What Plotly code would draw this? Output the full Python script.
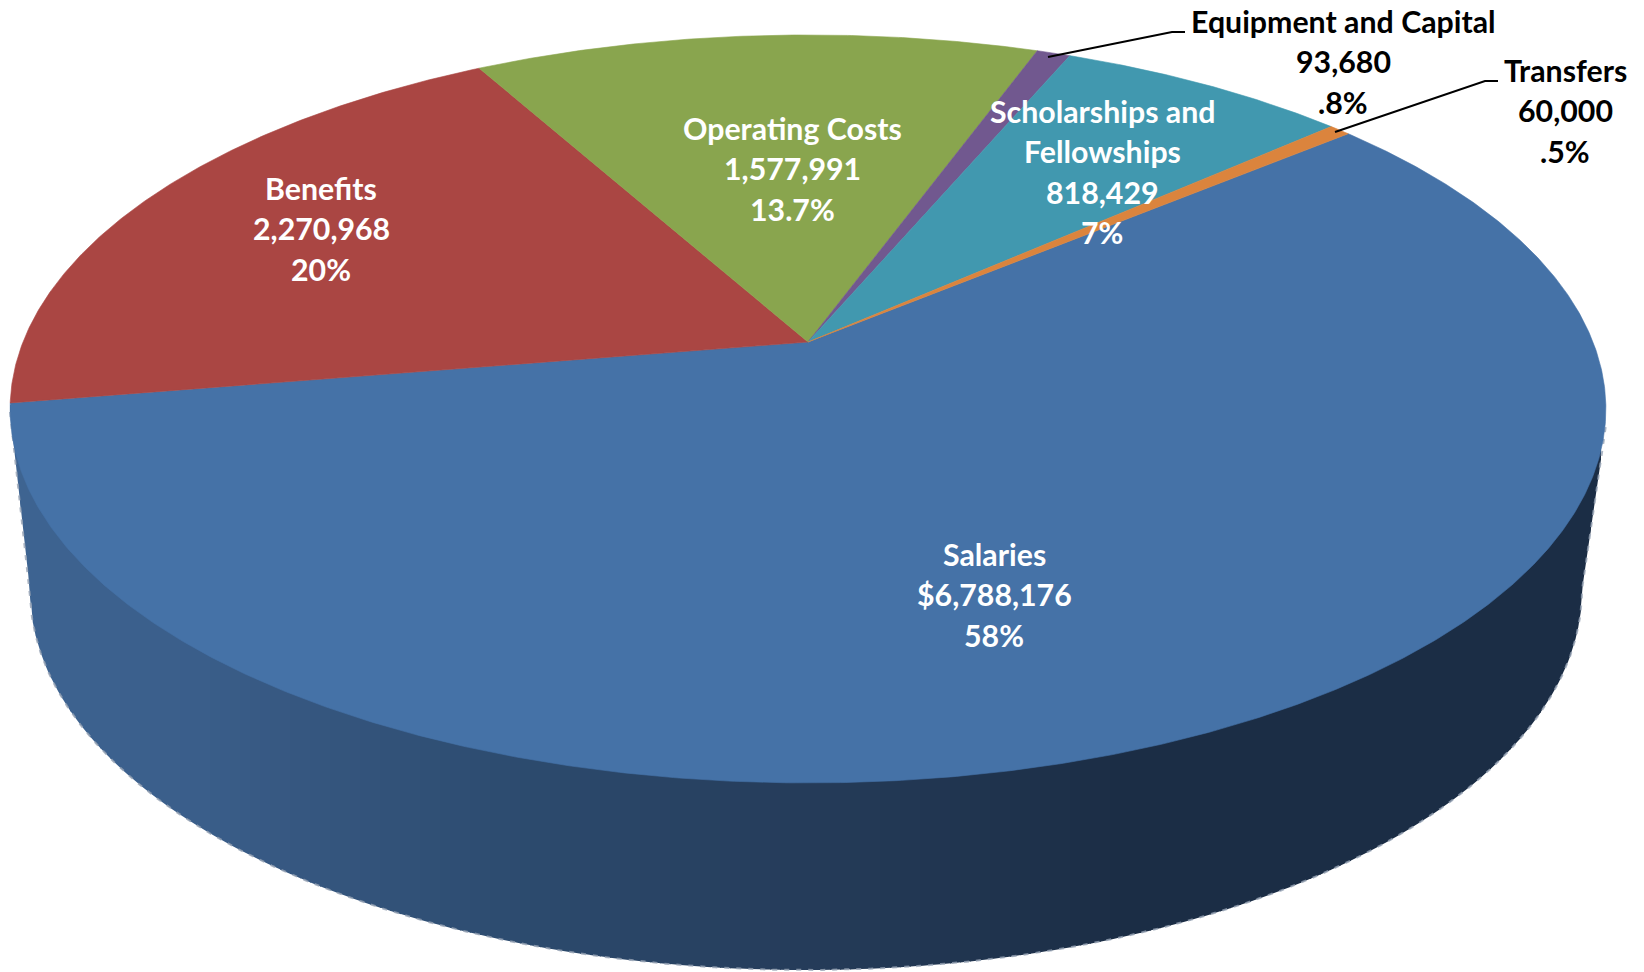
import numpy as np
import plotly.graph_objects as go

# Budget categories, clockwise from the upper right of the disc
categories = ["Salaries", "Benefits", "Operating Costs", "Equipment and Capital",
              "Scholarships and Fellowships", "Transfers"]
amounts = [6788176, 2270968, 1577991, 93680, 818429, 60000]
percent_labels = ["58%", "20%", "13.7%", ".8%", "7%", ".5%"]
amount_prefixes = ["$", "", "", "", "", ""]
name_lines = [["Salaries"], ["Benefits"], ["Operating Costs"], ["Equipment and Capital"],
              ["Scholarships and", "Fellowships"], ["Transfers"]]

slice_colors = ["#4572A7", "#AA4643", "#89A54E", "#71588F", "#4198AF", "#DB843D"]
text_colors = ["white", "white", "white", "black", "white", "black"]
label_x = [994, 321, 792, 1343, 1102, 1565]
label_top_y = [554, 188, 128, 21, 111, 70]
LINE_STEP = 40.3
FONT_SIZE = 30.3

# Projection of the tilted disc: apex position and perspective strength
APEX_X, APEX_Y = 808, 342
SCALE_X, SCALE_Y, TILT = 785, 362, 0.179
START_DEG = 39.9


def project(deg):
    a = np.radians(deg)
    depth = 1 + TILT * np.sin(a)
    return APEX_X + SCALE_X * np.cos(a) / depth, APEX_Y - SCALE_Y * np.sin(a) / depth


# Lower rim of the side wall
RIM_CX, RIM_CY, RIM_RX, RIM_RY = 806, 590, 776, 380
t = np.linspace(np.pi, 0, 721)
outline_x = np.concatenate([[10], RIM_CX + RIM_RX * np.cos(t), [1606]])
outline_y = np.concatenate([[412], RIM_CY + RIM_RY * np.sin(t), [425]])

# Side wall shading, left to right
shade_x = [10, 200, 300, 500, 800, 1000, 1120, 1644]
shade_r = [62, 58, 54, 45, 37, 31, 27, 27]
shade_g = [100, 94, 87, 76, 60, 51, 45, 45]
shade_b = [146, 138, 128, 112, 90, 77, 69, 69]

fig = go.Figure()

edges = np.arange(10, 1607, 10.0)
for left, right in zip(edges[:-1], edges[1:]):
    xs = np.linspace(left, min(right + 1, 1606), 5)
    ys = np.interp(xs, outline_x, outline_y)
    mid = (left + right) / 2
    color = "rgb({:.0f},{:.0f},{:.0f})".format(
        np.interp(mid, shade_x, shade_r),
        np.interp(mid, shade_x, shade_g),
        np.interp(mid, shade_x, shade_b),
    )
    fig.add_trace(go.Scatter(
        x=np.concatenate([xs, [xs[-1], xs[0], xs[0]]]),
        y=np.concatenate([ys, [405, 405, ys[0]]]),
        mode="lines", fill="toself", fillcolor=color,
        line=dict(width=0, color=color), hoverinfo="skip", showlegend=False,
    ))

# Speckled fringe along the lower rim
fig.add_trace(go.Scatter(
    x=outline_x, y=outline_y, mode="lines",
    line=dict(color="rgba(150,163,180,0.8)", width=2, dash="5px,7px"),
    hoverinfo="skip", showlegend=False,
))

# Top face: wedge sizes come straight from the amounts
shares = np.array(amounts, dtype=float) / sum(amounts)
angle = START_DEG
for name, share, color in zip(categories, shares, slice_colors):
    sweep = share * 360
    arc = np.linspace(angle, angle - sweep, max(int(sweep * 3), 4))
    px, py = project(arc)
    fig.add_trace(go.Scatter(
        x=np.concatenate([[APEX_X], px, [APEX_X]]),
        y=np.concatenate([[APEX_Y], py, [APEX_Y]]),
        mode="lines", fill="toself", fillcolor=color,
        line=dict(width=0.6, color=color), name=name, hoverinfo="name", showlegend=False,
    ))
    angle -= sweep

# Leader lines for the two narrow slices
leaders = [([1048, 1172, 1185], [57, 32, 32]), ([1335, 1485, 1498], [132, 81, 81])]
for lx, ly in leaders:
    fig.add_trace(go.Scatter(x=lx, y=ly, mode="lines", line=dict(color="black", width=2),
                             hoverinfo="skip", showlegend=False))

# Data labels, one annotation per line of text
for names, prefix, amount, pct, x, y0, color in zip(
        name_lines, amount_prefixes, amounts, percent_labels, label_x, label_top_y, text_colors):
    lines = names + [f"{prefix}{amount:,}", pct]
    for i, text in enumerate(lines):
        fig.add_annotation(x=x, y=y0 + i * LINE_STEP, xref="x", yref="y", text=text,
                           showarrow=False, xanchor="center", yanchor="middle",
                           font=dict(family="Lato", size=FONT_SIZE, color=color, weight=700))

fig.update_layout(
    width=1644, height=972, margin=dict(l=0, r=0, t=0, b=0),
    paper_bgcolor="white", plot_bgcolor="white",
    xaxis=dict(range=[0, 1644], visible=False, fixedrange=True),
    yaxis=dict(range=[972, 0], visible=False, fixedrange=True),
)

fig.write_html("out.html")
